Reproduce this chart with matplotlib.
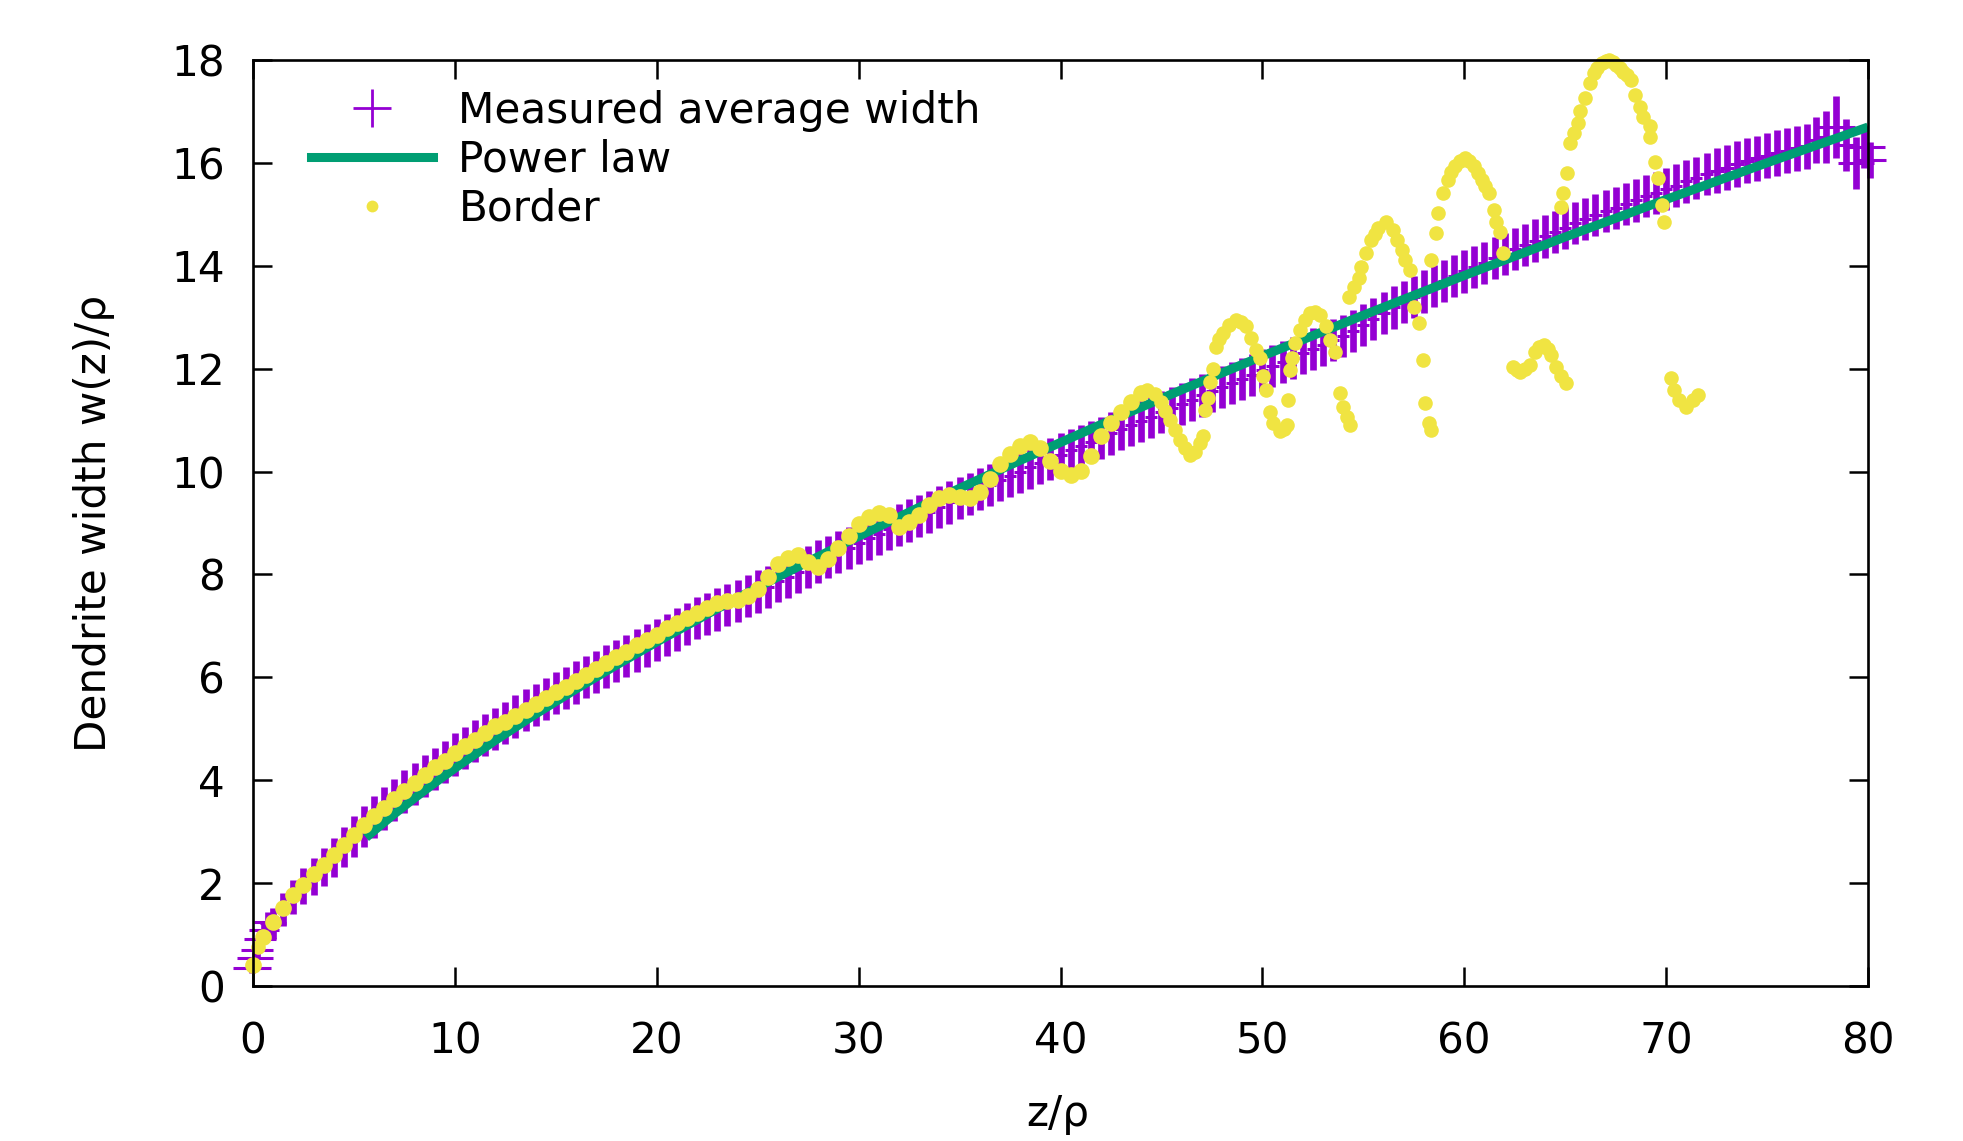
import numpy as np
import matplotlib
matplotlib.use("Agg")
import matplotlib.pyplot as plt
from matplotlib.lines import Line2D

# gnuplot default colours
PURPLE = "#9400d3"
GREEN = "#009e73"
YELLOW = "#f0e442"

# ---------------------------------------------------------------------------
# Measured average width
# first few points at the tip have wide x error bars
tip_z = [-0.05, 0.1, 0.2, 0.35, 0.55, 0.75]
tip_w = [0.35, 0.54, 0.70, 0.91, 1.09, 1.24]
tip_dz = [0.95, 0.9, 0.8, 0.8, 0.75, 0.7]
tip_dw = [0.1, 0.12, 0.14, 0.16, 0.18, 0.2]

# z = 1.0 ... 77.0, every 0.5
meas_z = np.arange(1.0, 77.25, 0.5)
meas_w = [
    1.22, 1.48, 1.73, 1.94, 2.13, 2.32, 2.50, 2.70, 2.90, 3.10,
    3.28, 3.45, 3.62, 3.78, 3.93, 4.08, 4.22, 4.36, 4.50, 4.63,
    4.76, 4.88, 5.00, 5.12, 5.24, 5.36, 5.47, 5.58, 5.69, 5.80,
    5.90, 6.01, 6.11, 6.21, 6.32, 6.42, 6.52, 6.62, 6.73, 6.83,
    6.93, 7.04, 7.15, 7.23, 7.32, 7.41, 7.49, 7.58, 7.67, 7.76,
    7.87, 7.96, 8.05, 8.15, 8.25, 8.34, 8.43, 8.52, 8.61, 8.70,
    8.79, 8.88, 8.96, 9.05, 9.14, 9.22, 9.31, 9.40, 9.48, 9.57,
    9.66, 9.74, 9.83, 9.91, 10.00, 10.08, 10.17, 10.25, 10.33, 10.41,
    10.50, 10.58, 10.66, 10.74, 10.83, 10.91, 10.99, 11.07, 11.15, 11.24,
    11.32, 11.40, 11.48, 11.56, 11.64, 11.72, 11.80, 11.88, 11.97, 12.05,
    12.13, 12.21, 12.30, 12.38, 12.46, 12.55, 12.63, 12.74, 12.85, 12.97,
    13.08, 13.19, 13.30, 13.40, 13.50, 13.60, 13.70, 13.80, 13.89, 13.98,
    14.06, 14.15, 14.23, 14.32, 14.40, 14.49, 14.57, 14.66, 14.74, 14.83,
    14.91, 14.99, 15.06, 15.13, 15.20, 15.27, 15.35, 15.42, 15.49, 15.56,
    15.64, 15.71, 15.78, 15.85, 15.91, 15.98, 16.04, 16.09, 16.14, 16.19,
    16.24, 16.28, 16.32,
]
meas_dz = [0.65, 0.6, 0.55, 0.5, 0.45, 0.42, 0.4, 0.38, 0.36, 0.34] + [0.3] * 133 + [0.35] * 10
meas_dw = [0.3, 0.32, 0.34, 0.35, 0.36, 0.37, 0.38, 0.39, 0.4, 0.4] + [0.41] * 133 + [0.44] * 10

# the last few, noisy points near z = 80
tail_z = [77.4, 77.9, 78.4, 78.9, 79.4, 79.8, 80.1]
tail_w = [16.45, 16.5, 16.7, 16.35, 16.0, 16.3, 16.05]
tail_dz = [0.4, 0.5, 0.95, 0.6, 0.9, 1.05, 0.8]
tail_dw = [0.45, 0.5, 0.6, 0.5, 0.5, 0.4, 0.35]

# ---------------------------------------------------------------------------
# Power law fit
power_z = [5.6, 6, 7, 8, 9, 10, 12, 14, 16, 18, 20, 23, 26, 30, 34, 38,
           42, 46, 50, 55, 60, 65, 70, 75, 80]
power_w = [2.886, 3.021, 3.345, 3.653, 3.948, 4.233, 4.774, 5.286, 5.772,
           6.238, 6.688, 7.335, 7.952, 8.741, 9.493, 10.216, 10.914, 11.589,
           12.245, 13.039, 13.811, 14.560, 15.289, 16.002, 16.697]

# ---------------------------------------------------------------------------
# Border: dense part, z = 0 ... 44 every 0.5
border_z = np.arange(0.0, 44.25, 0.5)
border_w = [
    0.40, 0.95, 1.25, 1.52, 1.76, 1.97, 2.17, 2.36, 2.55, 2.74,
    2.94, 3.13, 3.30, 3.46, 3.63, 3.79, 3.95, 4.10, 4.25, 4.38,
    4.53, 4.66, 4.78, 4.92, 5.05, 5.14, 5.24, 5.36, 5.48, 5.60,
    5.72, 5.82, 5.93, 6.04, 6.16, 6.27, 6.40, 6.50, 6.62, 6.72,
    6.83, 6.95, 7.05, 7.15, 7.25, 7.35, 7.44, 7.48, 7.50, 7.58,
    7.72, 7.95, 8.20, 8.32, 8.38, 8.25, 8.15, 8.30, 8.52, 8.75,
    8.98, 9.12, 9.20, 9.15, 8.92, 9.02, 9.15, 9.35, 9.48, 9.55,
    9.50, 9.48, 9.60, 9.85, 10.15, 10.35, 10.50, 10.58, 10.45, 10.20,
    10.02, 9.93, 10.02, 10.30, 10.70, 10.95, 11.16, 11.36, 11.52,
]

# Border: scattered arcs beyond z = 44
arcs_z = [
    0.25,
    44.3, 44.7, 45.0, 45.2, 45.42, 45.65, 45.91, 46.15, 46.41, 46.65, 46.9, 47.05,
    47.15, 47.3, 47.4, 47.55, 47.7, 47.85, 48.05, 48.35, 48.71, 48.95, 49.2, 49.45,
    49.7, 49.87, 50.04, 50.2, 50.37, 50.54, 50.87, 51.05, 51.2,
    51.29, 51.38, 51.46, 51.63, 51.86, 52.1, 52.35, 52.6, 52.85, 53.17, 53.34, 53.59,
    53.84, 54.0, 54.17, 54.35,
    54.31, 54.55, 54.79, 54.91, 55.14, 55.38, 55.56, 55.74, 56.1, 56.45, 56.69, 56.93,
    57.05, 57.29,
    57.52, 57.76, 57.95, 58.05, 58.24, 58.36,
    58.36, 58.6, 58.72, 58.95, 59.19, 59.35, 59.55, 59.8, 60.02, 60.25, 60.5, 60.7,
    60.86, 61.05, 61.21, 61.45, 61.57, 61.76, 61.93,
    62.4, 62.6, 62.76, 63.0, 63.24, 63.48, 63.7, 63.95, 64.15, 64.31, 64.55, 64.79, 65.02,
    64.79, 64.9, 65.1, 65.26, 65.43, 65.62, 65.74, 65.98, 66.21, 66.45, 66.6, 66.81,
    67.0, 67.17, 67.35, 67.52, 67.7, 67.88, 68.05, 68.24, 68.48, 68.71, 68.83, 69.19,
    69.19, 69.43, 69.62, 69.79, 69.9,
    70.26, 70.38, 70.62, 70.98, 71.33, 71.57,
]
arcs_w = [
    0.75,
    11.59, 11.5, 11.36, 11.18, 11.0, 10.8, 10.61, 10.45, 10.32, 10.38, 10.55, 10.7,
    11.2, 11.43, 11.75, 12.0, 12.43, 12.58, 12.69, 12.85, 12.95, 12.9, 12.82, 12.6,
    12.36, 12.2, 11.85, 11.59, 11.16, 10.94, 10.78, 10.82, 10.91,
    11.39, 11.98, 12.2, 12.49, 12.75, 12.95, 13.08, 13.1, 13.04, 12.82, 12.56, 12.33,
    11.52, 11.26, 11.07, 10.9,
    13.4, 13.59, 13.76, 13.98, 14.24, 14.5, 14.62, 14.73, 14.86, 14.7, 14.5, 14.31,
    14.11, 13.92,
    13.2, 12.88, 12.17, 11.33, 10.94, 10.81,
    14.11, 14.63, 15.02, 15.41, 15.67, 15.82, 15.93, 16.03, 16.09, 16.03, 15.93, 15.8,
    15.67, 15.55, 15.41, 15.08, 14.86, 14.66, 14.24,
    12.04, 11.97, 11.94, 12.0, 12.07, 12.33, 12.42, 12.46, 12.38, 12.27, 12.04, 11.85, 11.72,
    15.15, 15.41, 15.8, 16.38, 16.58, 16.77, 17.0, 17.26, 17.55, 17.74, 17.85, 17.94,
    17.99, 18.0, 17.96, 17.9, 17.84, 17.77, 17.7, 17.61, 17.32, 17.09, 16.9, 16.71,
    16.51, 16.02, 15.7, 15.18, 14.86,
    11.81, 11.59, 11.39, 11.26, 11.39, 11.49,
]

x_ticks = [0, 10, 20, 30, 40, 50, 60, 70, 80]
y_ticks = [0, 2, 4, 6, 8, 10, 12, 14, 16, 18]

assert len(meas_w) == len(meas_z) == len(meas_dz) == len(meas_dw)
assert len(border_w) == len(border_z)
assert len(arcs_z) == len(arcs_w)

# ---------------------------------------------------------------------------
W, H, DPI = 1963, 1141, 100
FS = 30.3

fig = plt.figure(figsize=(W / DPI, H / DPI), dpi=DPI)
ax = fig.add_axes([253 / W, 1 - 986 / H, (1868 - 253) / W, (986 - 60) / H])

all_z = np.concatenate([tip_z, meas_z, tail_z])
all_w = np.concatenate([tip_w, meas_w, tail_w])
all_dz = np.concatenate([tip_dz, meas_dz, tail_dz])
all_dw = np.concatenate([tip_dw, meas_dw, tail_dw])

# vertical bars thicker than the horizontal arms, as in the gnuplot output
ax.errorbar(all_z, all_w, yerr=all_dw, fmt="none", ecolor=PURPLE,
            elinewidth=4.8, capsize=0, clip_on=False, zorder=2)
ax.errorbar(all_z, all_w, xerr=all_dz, fmt="none", ecolor=PURPLE,
            elinewidth=2.2, capsize=0, clip_on=False, zorder=2)
ax.plot(power_z, power_w, color=GREEN, lw=6.5, solid_capstyle="butt", zorder=3)
ax.plot(border_z, border_w, ls="none", marker="o", ms=12, mew=0, color=YELLOW,
        clip_on=False, zorder=4)
ax.plot(arcs_z, arcs_w, ls="none", marker="o", ms=10.5, mew=0, color=YELLOW,
        clip_on=False, zorder=4)

ax.set_xlim(0, 80)
ax.set_ylim(0, 18)
ax.set_xticks(x_ticks)
ax.set_yticks(y_ticks)
ax.tick_params(direction="in", length=14, width=1.8, labelsize=FS,
               top=True, right=True)
ax.tick_params(axis="x", pad=25)
ax.tick_params(axis="y", pad=20)
for s in ax.spines.values():
    s.set_linewidth(1.9)
    s.set_zorder(5)

fig.text(1058 / W, 1 - 1114 / H, "z/ρ", ha="center", va="center", fontsize=FS)
fig.text(94 / W, 1 - 523 / H, "Dendrite width w(z)/ρ", ha="center", va="center",
         rotation=90, fontsize=FS)

handles = [
    Line2D([], [], ls="none", marker="+", ms=27, mew=2, color=PURPLE),
    Line2D([], [], color=GREEN, lw=6.5),
    Line2D([], [], ls="none", marker="o", ms=8.5, mew=0, color=YELLOW),
]
labels = ["Measured average width", "Power law", "Border"]
ax.legend(handles, labels, loc="upper left", bbox_to_anchor=(0.036, 0.968),
          frameon=False, fontsize=FS, handlelength=2.9, handletextpad=0.6,
          labelspacing=0.17, borderpad=0, borderaxespad=0)

fig.savefig("out.png", dpi=DPI)
